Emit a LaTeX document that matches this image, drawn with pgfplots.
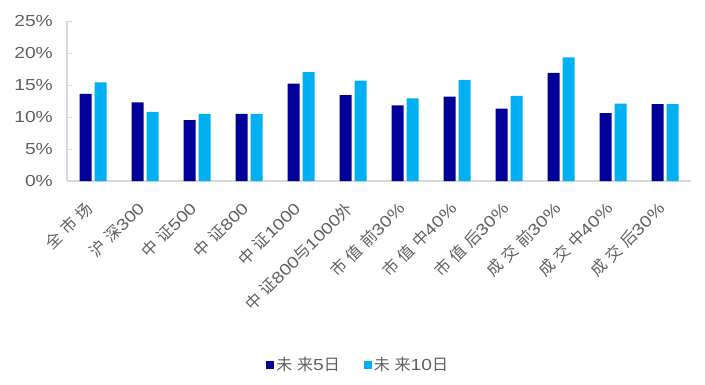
\documentclass[border=0pt]{standalone}
\usepackage{fontspec}
\setmainfont[FakeStretch=1.2]{Liberation Sans}
\newfontfamily\cjk[LetterSpace=30]{Noto Sans CJK SC}
\usepackage{pgfplots}
\pgfplotsset{compat=1.18}
\definecolor{dkblue}{RGB}{0,0,153}
\definecolor{ltblue}{RGB}{0,176,240}
\definecolor{txtgray}{RGB}{96,96,96}
\definecolor{axgray}{RGB}{217,217,217}
\begin{document}
\begin{tikzpicture}
\useasboundingbox (0,0) rectangle (705pt,384pt);
\begin{axis}[
  at={(67pt,203pt)}, anchor=south west,
  scale only axis, width=624pt, height=160pt,
  xmin=-0.5, xmax=11.5, ymin=0, ymax=25,
  ybar=3pt, bar width=12pt,
  axis x line*=bottom, axis y line*=left,
  x axis line style={draw=axgray, line width=2pt},
  y axis line style={draw=axgray, line width=1.5pt},
  xtick={0,...,11},
  major x tick style={draw=none},
  ytick={0,5,10,15,20,25},
  ytick style={draw=axgray, line width=1pt},
  tick align=inside, major tick length=5pt,
  yticklabel={\pgfmathprintnumber{\tick}\%},
  /pgf/number format/assume math mode=true,
  yticklabel style={font=\fontsize{16}{19}\selectfont, text=txtgray, inner sep=0pt, anchor=east, xshift=-14pt},
  xticklabels={{\cjk 全市场},{\cjk 沪深}300,{\cjk 中证}500,{\cjk 中证}800,{\cjk 中证}1000,{\cjk 中证}800{\cjk 与}1000{\cjk 外},{\cjk 市值前}30\%,{\cjk 市值中}40\%,{\cjk 市值后}30\%,{\cjk 成交前}30\%,{\cjk 成交中}40\%,{\cjk 成交后}30\%},
  xticklabel style={font=\fontsize{16}{19}\selectfont, text=txtgray, inner sep=0pt, yshift=-19pt, xshift=-9pt, rotate=45, anchor=north east},
  legend style={at={(axis cs:5.1,-28.7)}, anchor=center, draw=none, fill=none,
    font=\fontsize{16}{19}\selectfont, text=txtgray, legend columns=2,
    /tikz/every even column/.append style={column sep=22pt}},
  legend image code/.code={\fill[#1] (0pt,-4pt) rectangle (8pt,4pt);},
  legend cell align=left,
]
\addplot[fill=dkblue, draw=none] coordinates {(0,13.6) (1,12.3) (2,9.5) (3,10.5) (4,15.2) (5,13.4) (6,11.8) (7,13.2) (8,11.3) (9,16.9) (10,10.6) (11,12.0)};
\addplot[fill=ltblue, draw=none] coordinates {(0,15.4) (1,10.8) (2,10.5) (3,10.5) (4,17.0) (5,15.7) (6,12.9) (7,15.8) (8,13.3) (9,19.3) (10,12.1) (11,12.0)};
\legend{{\cjk 未来}5{\cjk 日},{\cjk 未来}10{\cjk 日}}
\end{axis}
\end{tikzpicture}
\end{document}
